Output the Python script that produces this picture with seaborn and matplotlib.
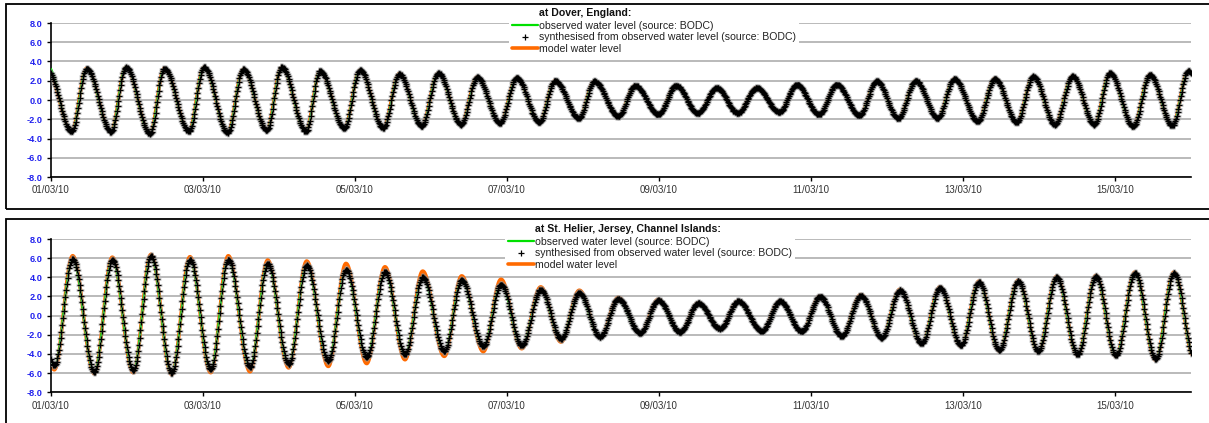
import numpy as np
import pandas as pd
import matplotlib
matplotlib.use("Agg")
import matplotlib.pyplot as plt
import seaborn as sns
from matplotlib.patches import Rectangle

# ---------------- data (tide extremes) ----------------
# times in hours after 01/03/10 00:00, heights in metres
dover_hw_hours = [-1.15, 11.27, 23.68, 35.78, 48.32, 60.73, 72.85, 84.95, 97.58, 110.0, 122.31,
                  134.62, 147.06, 159.16, 171.57, 184.42, 197.37, 210.22, 222.85, 235.48,
                  248.12, 260.75, 273.06, 285.25, 298.11, 310.2, 322.64, 334.42, 347.05, 359.15]
dover_hw_synth = [3.1, 3.25, 3.4, 3.25, 3.4, 3.2, 3.4, 3.0, 3.1, 2.7, 2.8, 2.35, 2.3, 2.0, 1.95,
                  1.5, 1.5, 1.25, 1.25, 1.6, 1.6, 1.95, 2.0, 2.2, 2.2, 2.45, 2.45, 2.8, 2.6, 3.0]
dover_hw_model = [3.1, 3.3, 3.4, 3.3, 3.4, 3.2, 3.4, 3.0, 3.1, 2.75, 2.8, 2.4, 2.3, 2.0, 1.95,
                  1.5, 1.5, 1.25, 1.3, 1.6, 1.6, 1.95, 2.0, 2.2, 2.25, 2.45, 2.5, 2.8, 2.65, 3.0]
dover_hw_obs = [3.6, 3.25, 3.45, 3.25, 3.4, 3.2, 3.35, 3.0, 3.1, 2.7, 2.8, 2.3, 2.25, 1.95, 1.9,
                1.45, 1.45, 1.2, 1.25, 1.55, 1.6, 1.9, 2.0, 2.2, 2.2, 2.4, 2.45, 2.75, 2.6, 2.9]
dover_lw_hours = [6.54, 18.95, 31.26, 43.58, 55.8, 68.12, 80.53, 92.62, 104.94, 117.06, 129.47,
                  141.79, 154.2, 166.74, 179.15, 191.78, 204.22, 216.85, 229.99, 242.53, 255.25,
                  267.57, 280.01, 292.64, 304.96, 317.05, 329.46, 341.78, 354.09, 366.8]
dover_lw_synth = [-3.26, -3.3, -3.5, -3.25, -3.4, -3.15, -3.25, -2.9, -2.9, -2.7, -2.55, -2.4,
                  -2.3, -1.9, -1.7, -1.5, -1.35, -1.35, -1.25, -1.5, -1.6, -1.9, -1.9, -2.2,
                  -2.3, -2.55, -2.55, -2.75, -2.65, -2.8]
dover_lw_model = [-3.2, -3.25, -3.45, -3.2, -3.35, -3.1, -3.2, -2.9, -2.85, -2.65, -2.5, -2.4,
                  -2.3, -1.9, -1.7, -1.5, -1.35, -1.35, -1.25, -1.5, -1.6, -1.85, -1.9, -2.2,
                  -2.3, -2.5, -2.55, -2.7, -2.65, -2.8]
dover_lw_obs = [-3.35, -3.35, -3.55, -3.3, -3.45, -3.2, -3.3, -3.0, -3.0, -2.8, -2.65, -2.5,
                -2.35, -1.95, -1.75, -1.55, -1.4, -1.4, -1.3, -1.55, -1.65, -1.95, -1.95, -2.25,
                -2.35, -2.6, -2.6, -2.8, -2.7, -2.8]

helier_hw_hours = [-5.6, 6.85, 19.36, 31.58, 43.89, 55.99, 68.43, 80.75, 93.16, 105.47, 117.38,
                   129.69, 142.11, 154.64, 166.83, 179.15, 191.78, 204.41, 217.04, 230.21,
                   242.84, 255.79, 268.1, 280.74, 293.05, 305.46, 317.59, 330.0, 342.32, 354.63]
helier_hw_synth = [6.0, 5.9, 5.85, 6.2, 5.85, 5.85, 5.4, 5.25, 4.8, 4.55, 4.0, 3.7, 3.25, 2.7,
                   2.35, 1.75, 1.6, 1.3, 1.5, 1.5, 2.0, 2.1, 2.65, 2.9, 3.5, 3.6, 4.0, 4.1, 4.45, 4.45]
helier_hw_model = [6.3, 6.25, 6.1, 6.4, 6.15, 6.25, 5.8, 5.7, 5.45, 5.1, 4.65, 4.15, 3.8, 3.0,
                   2.65, 1.9, 1.7, 1.35, 1.55, 1.55, 2.05, 2.2, 2.75, 3.0, 3.6, 3.7, 4.1, 4.2, 4.55, 4.55]
helier_hw_obs = [6.0, 5.85, 5.8, 6.15, 5.8, 5.8, 5.35, 5.2, 4.75, 4.5, 3.95, 3.65, 3.2, 2.6,
                 2.2, 1.5, 1.35, 1.05, 1.25, 1.3, 1.85, 2.0, 2.6, 2.85, 3.45, 3.55, 3.95, 4.05, 4.4, 4.4]
helier_lw_hours = [1.04, 13.67, 25.99, 38.12, 50.43, 62.84, 75.06, 87.57, 99.69, 111.79, 124.2,
                   136.52, 148.64, 161.05, 173.37, 186.0, 198.63, 211.26, 224.43, 237.06,
                   249.69, 262.33, 274.96, 287.37, 299.46, 311.78, 324.22, 336.32, 348.85, 361.2]
helier_lw_synth = [-5.2, -5.85, -5.7, -5.95, -5.6, -5.35, -5.05, -4.7, -4.3, -4.0, -3.7, -3.2,
                   -3.1, -2.4, -2.2, -1.8, -1.7, -1.35, -1.6, -1.65, -2.15, -2.3, -2.9, -3.1,
                   -3.6, -3.7, -4.05, -4.15, -4.5, -4.6]
helier_lw_model = [-5.65, -6.05, -5.95, -6.15, -5.95, -5.85, -5.45, -5.3, -5.0, -4.6, -4.25, -3.75,
                   -3.45, -2.75, -2.3, -1.85, -1.75, -1.4, -1.65, -1.7, -2.2, -2.4, -3.0, -3.2,
                   -3.7, -3.8, -4.15, -4.25, -4.65, -4.7]
helier_lw_obs = [-5.3, -5.9, -5.75, -6.0, -5.65, -5.4, -5.1, -4.75, -4.35, -4.05, -3.75, -3.25,
                 -3.15, -2.45, -2.3, -1.9, -1.8, -1.45, -1.7, -1.75, -2.2, -2.35, -2.95, -3.15,
                 -3.65, -3.75, -4.1, -4.2, -4.55, -4.6]

x_tick_days = [0, 2, 4, 6, 8, 10, 12, 14]
x_tick_labels = ["01/03/10", "03/03/10", "05/03/10", "07/03/10", "09/03/10",
                 "11/03/10", "13/03/10", "15/03/10"]
y_ticks = [-8.0, -6.0, -4.0, -2.0, 0.0, 2.0, 4.0, 6.0, 8.0]
panel_titles = ["at Dover, England:", "at St. Helier, Jersey, Channel Islands:"]
series_labels = ["observed water level (source: BODC)",
                 "synthesised from observed water level (source: BODC)",
                 "model water level"]


def tide_curve(hw_t, hw_v, lw_t, lw_v, t_hours):
    times = np.array(hw_t + lw_t, dtype=float)
    vals = np.array(hw_v + lw_v, dtype=float)
    order = np.argsort(times)
    times, vals = times[order], vals[order]
    idx = np.clip(np.searchsorted(times, t_hours, side="right") - 1, 0, len(times) - 2)
    t0, t1 = times[idx], times[idx + 1]
    v0, v1 = vals[idx], vals[idx + 1]
    frac = np.clip((t_hours - t0) / (t1 - t0), 0, 1)
    return v0 + (v1 - v0) * (1 - np.cos(np.pi * frac)) / 2


sns.set_theme(style="white")
plt.rcParams["font.family"] = ["Liberation Sans", "DejaVu Sans"]

W, H = 1209, 423
fig = plt.figure(figsize=(W / 100, H / 100), dpi=100)
fig.patch.set_facecolor("white")

# panel frames
fig.add_artist(Rectangle((6 / W, 1 - 209 / H), 1.0, (209 - 4) / H, transform=fig.transFigure,
                         fill=False, ec="black", lw=1.3))
fig.add_artist(Rectangle((6 / W, -0.05), 1.0, 0.05 + 1 - 219.5 / H, transform=fig.transFigure,
                         fill=False, ec="black", lw=1.3))

panels = [
    dict(top=23, bottom=177, title_y=12,
         hw=(dover_hw_hours, dover_hw_synth, dover_hw_model, dover_hw_obs),
         lw=(dover_lw_hours, dover_lw_synth, dover_lw_model, dover_lw_obs)),
    dict(top=239, bottom=392.3, title_y=228,
         hw=(helier_hw_hours, helier_hw_synth, helier_hw_model, helier_hw_obs),
         lw=(helier_lw_hours, helier_lw_synth, helier_lw_model, helier_lw_obs)),
]

t_line = np.arange(0, 360.01, 0.1)
t_mark = np.arange(0, 360.01, 0.25)

for i, p in enumerate(panels):
    ax = fig.add_axes([51 / W, 1 - p["bottom"] / H, 1140 / W, (p["bottom"] - p["top"]) / H])
    hw_t, hw_s, hw_m, hw_o = p["hw"]
    lw_t, lw_s, lw_m, lw_o = p["lw"]
    obs = tide_curve(hw_t, hw_o, lw_t, lw_o, t_line)
    mod = tide_curve(hw_t, hw_m, lw_t, lw_m, t_line)
    syn = tide_curve(hw_t, hw_s, lw_t, lw_s, t_mark)
    df_line = pd.DataFrame({"day": t_line / 24, "obs": obs, "mod": mod})
    df_mark = pd.DataFrame({"day": t_mark / 24, "syn": syn})

    sns.lineplot(data=df_line, x="day", y="mod", ax=ax, color="#ff6a00", lw=2.6,
                 estimator=None, sort=False, label=series_labels[2], zorder=2)
    sns.lineplot(data=df_line, x="day", y="obs", ax=ax, color="#00e000", lw=1.6,
                 estimator=None, sort=False, label=series_labels[0], zorder=3)
    # soft grey halo under the synthesised markers
    ax.plot(df_mark["day"], df_mark["syn"], ls="none", marker="+", ms=6.0, mew=1.8,
            color="#9a9a9a", alpha=0.55, zorder=3.5)
    ax.plot(df_mark["day"], df_mark["syn"], ls="none", marker="+", ms=4.8, mew=0.9,
            color="black", label=series_labels[1], zorder=4)

    ax.set_xlim(0, 15)
    ax.set_ylim(-8, 8)
    ax.set_xlabel("")
    ax.set_ylabel("")
    ax.set_yticks(y_ticks)
    ax.set_yticklabels([f"{v:.1f}" for v in y_ticks], fontsize=6.6, fontweight="bold",
                       color="#2222ee")
    ax.set_xticks(x_tick_days)
    ax.set_xticklabels(x_tick_labels, fontsize=7.0, color="#333333")
    ax.tick_params(axis="both", direction="out", length=3, width=1, color="black", pad=3,
                   left=True, bottom=True)
    ax.grid(axis="y", color="#b4b4b4", lw=1.3)
    ax.grid(axis="x", visible=False)
    ax.set_axisbelow(True)
    for s in ["top", "right"]:
        ax.spines[s].set_visible(False)
    for s in ["left", "bottom"]:
        ax.spines[s].set_color("black")
        ax.spines[s].set_linewidth(1.2)

    handles, labels = ax.get_legend_handles_labels()
    hmap = dict(zip(labels, handles))
    ordered = [hmap[l] for l in series_labels]
    leg = ax.legend(ordered, series_labels, loc="upper left",
                    bbox_to_anchor=((509 if i == 0 else 505) / W, 1 - (p["title_y"] + 6) / H),
                    bbox_transform=fig.transFigure, fontsize=7.6, frameon=True,
                    facecolor="white", edgecolor="none", framealpha=1, fancybox=False,
                    borderpad=0.3, borderaxespad=0, handlelength=2.4, handletextpad=0.1,
                    labelspacing=0.12, numpoints=1, markerscale=1.0)
    leg.set_zorder(10)
    for t in leg.get_texts():
        t.set_color("#222222")
    fig.text((539 if i == 0 else 535) / W, 1 - (p["title_y"] + 0.5) / H, panel_titles[i],
             fontsize=7.6, fontweight="bold", ha="left", va="center", color="#111111")

fig.savefig("out.png", dpi=100, facecolor="white")
